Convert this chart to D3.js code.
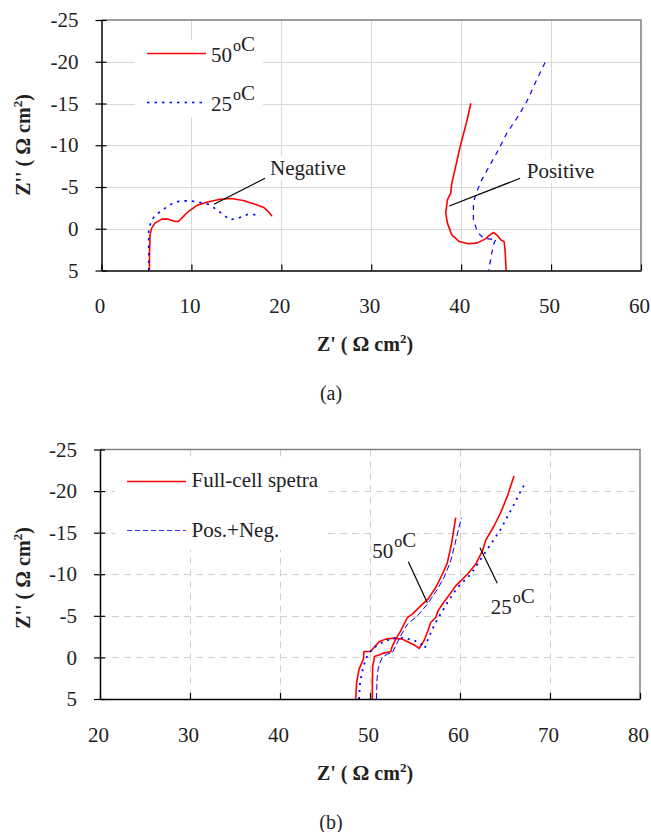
<!DOCTYPE html>
<html>
<head>
<meta charset="utf-8">
<script src="https://cdn.jsdelivr.net/npm/d3@7"></script>
<style>
  html, body { margin: 0; padding: 0; background: #fff; }
  svg { display: block; }
  text { font-family: "Liberation Serif", "Times New Roman", serif; fill: #222; }
</style>
</head>
<body>
<svg id="chart" width="651" height="832"></svg>
<script>
// ---- Panel (a): half-cell impedance spectra [Z', Z''] ----
const neg50 = [[5.32,5],[5.35,2.5],[5.4,0.73],[5.58,-0.07],[5.95,-0.67],[6.69,-1.15],[7.43,-1.15],
  [8.18,-0.87],[8.55,-0.87],[8.92,-1.27],[9.66,-2.06],[10.59,-2.78],[11.7,-3.18],[13.18,-3.54],
  [14.48,-3.62],[15.77,-3.38],[17.07,-2.94],[18.0,-2.58],[18.55,-2.06],[18.93,-1.55],[19.0,-1.55]];
const neg25 = [[5.25,5],[5.25,2.5],[5.25,0.13],[5.4,-0.47],[5.84,-1.47],[6.88,-2.34],[7.81,-2.98],
  [8.73,-3.34],[9.84,-3.34],[10.77,-3.18],[11.88,-2.94],[12.74,-2.34],[13.55,-1.67],[14.29,-1.07],
  [15.22,-1.27],[16.33,-1.75],[17.26,-1.67],[17.7,-1.6]];
const pos50 = [[41.07,-15.03],[40.62,-12.83],[40.18,-11.04],[39.8,-9.44],[39.43,-7.65],[38.96,-5.46],
  [38.84,-4.26],[38.47,-3.46],[38.29,-1.87],[38.47,-0.67],[38.96,0.73],[39.8,1.53],[40.8,1.8],
  [41.73,1.72],[42.66,1.24],[43.21,0.73],[43.58,0.45],[43.96,0.73],[44.4,1.33],[44.77,1.53],
  [44.88,2.52],[45.0,5]];
const pos25 = [[49.33,-19.9],[48.22,-17.42],[47.3,-15.23],[46.19,-13.23],[45.07,-11.44],[44.14,-9.44],
  [43.21,-7.65],[42.29,-5.85],[41.66,-4.26],[41.36,-3.07],[41.36,-1.07],[41.73,0.13],[42.1,0.73],
  [42.47,1.12],[43.21,1.24],[43.88,1.24],[43.66,1.72],[43.4,2.92],[43.14,4.52],[43.08,5]];

// ---- Panel (b): full-cell spectra and the sum of both electrodes ----
const full25 = [[48.41,5],[48.52,3.0],[48.78,1.4],[49.27,0.2],[49.33,-0.72],[50.08,-0.72],[50.44,-1.2],
  [51.0,-1.87],[51.74,-2.2],[52.67,-2.32],[53.6,-2.2],[54.33,-1.8],[55.08,-1.4],[55.44,-1.08],
  [56.0,-2.0],[56.44,-3.2],[56.74,-4.2],[57.3,-4.8],[57.56,-5.6],[58.04,-6.4],[58.6,-7.2],
  [59.52,-8.6],[60.82,-10.0],[61.74,-11.2],[62.49,-12.8],[62.86,-14.1],[63.78,-15.8],[64.52,-17.4],
  [65.27,-19.4],[66.0,-21.8]];
const full50 = [[50.26,5],[50.26,3.0],[50.3,1.0],[50.44,0.4],[50.48,-0.12],[51.0,-0.3],[51.49,-0.52],
  [52.3,-0.68],[52.49,-1.4],[52.97,-2.4],[53.41,-3.2],[54.16,-4.8],[54.71,-5.2],[55.63,-6.2],
  [56.44,-7.0],[57.3,-8.4],[58.04,-10.0],[58.6,-11.4],[59.08,-13.8],[59.52,-16.8]];
const sum25 = [[48.78,5],[48.9,3.0],[49.16,1.6],[49.52,0.2],[49.89,-0.52],[50.44,-1.2],[51.37,-1.8],
  [52.49,-2.28],[53.6,-2.36],[54.71,-2.12],[55.63,-1.68],[56.08,-1.08],[56.44,-2.2],[56.93,-3.4],
  [57.49,-4.6],[58.6,-6.6],[59.71,-8.4],[61.19,-10.0],[62.3,-11.8],[63.41,-13.6],[64.52,-15.4],
  [66.0,-18.4],[66.74,-20.0],[67.41,-21.2]];
const sum50 = [[50.72,5],[50.78,2.6],[50.9,1.4],[51.12,0.6],[51.37,0.0],[51.93,-0.4],[52.49,-0.6],
  [52.86,-1.4],[53.41,-2.6],[54.16,-4.0],[55.27,-5.0],[56.38,-6.4],[57.49,-8.2],[58.22,-9.6],
  [58.97,-11.6],[59.52,-14.0],[60.15,-16.8]];

// ---- Axis ticks ----
const xTicksA = [0, 10, 20, 30, 40, 50, 60];
const xTicksB = [20, 30, 40, 50, 60, 70, 80];
const yTicks = [-25, -20, -15, -10, -5, 0, 5];
const yTickLabels = ["-25", "-20", "-15", "-10", "-5", "0", "5"];

const svg = d3.select("#chart");
const RED = "#ff0000", BLUE = "#0000ff";

function panel(cfg) {
  const g = svg.append("g");
  const x = d3.scaleLinear().domain(cfg.xDomain).range([cfg.left, cfg.right]);
  const y = d3.scaleLinear().domain([-25, 5]).range([cfg.top, cfg.bottom]);

  // grid
  const grid = g.append("g").attr("stroke", cfg.gridColor).attr("stroke-width", 1)
    .attr("stroke-dasharray", cfg.gridDash || null);
  cfg.xTicks.slice(1, -1).forEach(v => grid.append("line")
    .attr("x1", Math.round(x(v)) + 0.5).attr("x2", Math.round(x(v)) + 0.5)
    .attr("y1", cfg.top).attr("y2", cfg.bottom));
  yTicks.slice(1, -1).forEach(v => grid.append("line")
    .attr("x1", cfg.left).attr("x2", cfg.right)
    .attr("y1", Math.round(y(v)) + 0.5).attr("y2", Math.round(y(v)) + 0.5));

  // plot frame (top/right)
  g.append("path")
    .attr("d", `M${cfg.left},${cfg.top}H${cfg.right}V${cfg.bottom}`)
    .attr("fill", "none").attr("stroke", "#7f7f7f").attr("stroke-width", 1.5);

  // legend background
  g.append("rect").attr("x", cfg.legend.box[0]).attr("y", cfg.legend.box[1])
    .attr("width", cfg.legend.box[2]).attr("height", cfg.legend.box[3]).attr("fill", "#fff");

  // annotation texts with white backing
  const line = d3.line().x(d => x(d[0])).y(d => y(d[1]));
  cfg.notes.forEach(n => {
    const t = g.append("text").attr("x", x(n.at[0])).attr("y", y(n.at[1]))
      .attr("font-size", 21);
    addLabel(t, n.parts);
    const bb = t.node().getBBox();
    g.insert("rect", "text:last-of-type").attr("x", bb.x - 1).attr("y", bb.y)
      .attr("width", bb.width + 2).attr("height", bb.height).attr("fill", "#fff");
    t.raise();
  });

  // series
  cfg.series.forEach(s => {
    g.append("path").datum(s.data).attr("d", line)
      .attr("fill", "none").attr("stroke", s.color).attr("stroke-width", s.width)
      .attr("stroke-dasharray", s.dash || null).attr("stroke-linejoin", "round");
  });

  // leader lines
  cfg.notes.forEach(n => {
    g.append("line").attr("x1", x(n.from[0])).attr("y1", y(n.from[1]))
      .attr("x2", x(n.to[0])).attr("y2", y(n.to[1]))
      .attr("stroke", "#000").attr("stroke-width", 1.2);
  });

  // x axis
  const xa = g.append("g").attr("transform", `translate(0,${cfg.bottom})`)
    .call(d3.axisBottom(x).tickValues(cfg.xTicks).tickFormat(d => String(d))
      .tickSizeInner(-6).tickSizeOuter(0).tickPadding(28));
  xa.select(".domain").attr("stroke", "#000").attr("stroke-width", 1.5);
  xa.selectAll(".tick line").attr("stroke", "#000").attr("stroke-width", 1.2);
  xa.selectAll(".tick text").attr("font-size", 21).attr("dx", -2)
    .attr("font-family", "Liberation Serif").attr("fill", "#222");

  // y axis
  const ya = g.append("g").attr("transform", `translate(${cfg.left},0)`)
    .call(d3.axisLeft(y).tickValues(yTicks).tickFormat((d, i) => yTickLabels[i])
      .tickSizeInner(0).tickSizeOuter(0).tickPadding(23));
  ya.select(".domain").attr("stroke", "#000").attr("stroke-width", 1.5);
  ya.selectAll(".tick line").attr("x1", -6).attr("x2", 5)
    .attr("stroke", "#000").attr("stroke-width", 1.2);
  ya.selectAll(".tick text").attr("font-size", 21)
    .attr("font-family", "Liberation Serif").attr("fill", "#222");

  // legend entries
  cfg.legend.items.forEach(it => {
    g.append("line").attr("x1", it.x1).attr("x2", it.x2).attr("y1", it.y).attr("y2", it.y)
      .attr("stroke", it.color).attr("stroke-width", it.width)
      .attr("stroke-dasharray", it.dash || null);
    const t = g.append("text").attr("x", it.tx).attr("y", it.ty).attr("font-size", 21);
    addLabel(t, it.parts);
  });

  // axis titles
  const yt = g.append("text")
    .attr("transform", `translate(${cfg.yTitle[0]},${cfg.yTitle[1]}) rotate(-90)`)
    .attr("text-anchor", "middle").attr("font-weight", "bold").attr("font-size", 20);
  yt.append("tspan").text("Z'' ( ");
  yt.append("tspan").attr("font-size", 21).text("Ω");
  yt.append("tspan").text("  cm");
  yt.append("tspan").attr("font-size", 13).attr("dy", -8).text("2");
  yt.append("tspan").attr("dy", 8).text(")");

  const xt = g.append("text").attr("x", cfg.xTitle[0]).attr("y", cfg.xTitle[1])
    .attr("text-anchor", "middle").attr("font-weight", "bold").attr("font-size", 20);
  xt.append("tspan").text("Z' ( ");
  xt.append("tspan").attr("font-size", 21).text("Ω");
  xt.append("tspan").text("  cm");
  xt.append("tspan").attr("font-size", 13).attr("dy", -8).text("2");
  xt.append("tspan").attr("dy", 8).text(")");

  svg.append("text").attr("x", cfg.caption[0]).attr("y", cfg.caption[1])
    .attr("text-anchor", "middle").attr("font-size", 20).text(cfg.caption[2]);
}

// text with a raised "o" for degree marks
function addLabel(t, parts) {
  parts.forEach(p => {
    if (p === "°") {
      t.append("tspan").attr("font-size", 16).attr("dx", 1).attr("dy", -11).text("o");
      t.append("tspan").attr("dy", 11).text("");
    } else {
      t.append("tspan").text(p);
    }
  });
}

panel({
  xDomain: [0, 60], xTicks: xTicksA,
  left: 101.5, right: 641, top: 20, bottom: 270.5,
  gridColor: "#d9d9d9",
  legend: {
    box: [135, 40, 128, 77],
    items: [
      { x1: 147, x2: 206, y: 53.5, color: RED, width: 1.5, tx: 211, ty: 61.5, parts: ["50", "°", "C"] },
      { x1: 147, x2: 206, y: 102.5, color: BLUE, width: 1.6, dash: "2.5,5", tx: 211, ty: 110.5, parts: ["25", "°", "C"] }
    ]
  },
  series: [
    { data: neg50, color: RED, width: 1.6 },
    { data: neg25, color: BLUE, width: 1.6, dash: "2.5,5" },
    { data: pos50, color: RED, width: 1.6 },
    { data: pos25, color: BLUE, width: 1.2, dash: "5,5" }
  ],
  notes: [
    { parts: ["Negative"], at: [18.74, -6.44], from: [18.19, -6.04], to: [12.51, -2.93] },
    { parts: ["Positive"], at: [47.29, -6.04], from: [46.55, -6.04], to: [38.68, -2.72] }
  ],
  yTitle: [30, 145], xTitle: [365, 351], caption: [331, 400, "(a)"]
});

panel({
  xDomain: [20, 80], xTicks: xTicksB,
  left: 100, right: 640, top: 449.5, bottom: 699,
  gridColor: "#cfcfcf", gridDash: "7,5",
  legend: {
    box: [115, 461, 212, 89],
    items: [
      { x1: 127, x2: 186, y: 481.5, color: RED, width: 1.5, tx: 191.5, ty: 487, parts: ["Full-cell spetra"] },
      { x1: 127, x2: 186, y: 530.5, color: "#3b3bff", width: 1.2, dash: "5,3", tx: 191.5, ty: 537, parts: ["Pos.+Neg."] }
    ]
  },
  series: [
    { data: full25, color: RED, width: 1.6 },
    { data: full50, color: RED, width: 1.6 },
    { data: sum25, color: BLUE, width: 1.8, dash: "2,5" },
    { data: sum50, color: BLUE, width: 1.0, dash: "6,3" }
  ],
  notes: [
    { parts: ["50", "°", "C"], at: [50.26, -11.92], from: [54.26, -11.51], to: [56.37, -6.58] },
    { parts: ["25", "°", "C"], at: [63.41, -5.22], from: [62.22, -13.19], to: [64.14, -8.91] }
  ],
  yTitle: [30, 578], xTitle: [365, 780], caption: [331, 829, "(b)"]
});
</script>
</body>
</html>
